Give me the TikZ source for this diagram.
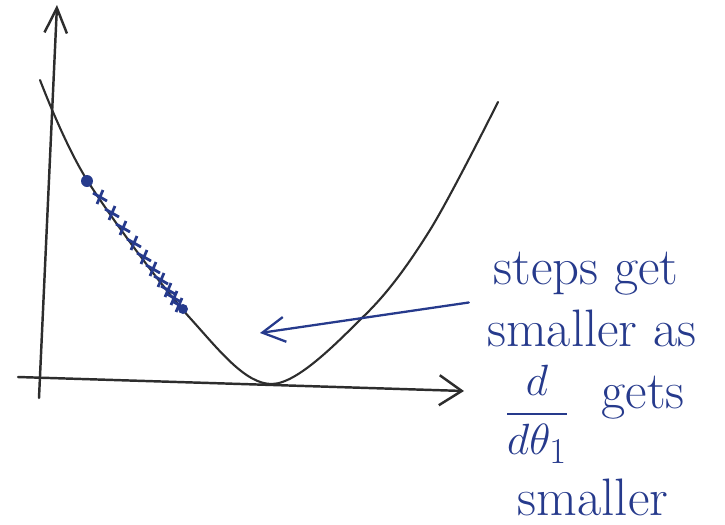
\documentclass[tikz,border=0pt]{standalone}
\usepackage{amsmath}
\usetikzlibrary{arrows.meta}

\definecolor{inkblue}{RGB}{38,58,140}
\definecolor{pencil}{RGB}{45,45,45}

\tikzset{
  axisline/.style={pencil, line width=1.4pt, line cap=round},
  costcurve/.style={pencil, line width=1.2pt, line cap=round},
  bluenote/.style={inkblue, font=\fontsize{30}{32}\selectfont, inner sep=2pt},
  bluearrow/.style={inkblue, line width=1.3pt, line cap=round,
    -{Straight Barb[length=4.5mm,width=5mm,line width=1.3pt]}},
}

\begin{document}
\begin{tikzpicture}[x=0.02cm, y=-0.02cm]
      \useasboundingbox (0,0) rectangle (725,525);

      % axes
      \coordinate (yfoot) at (39,398);
      \coordinate (ytip) at (57,5);
      \coordinate (xfoot) at (18,377);
      \coordinate (xtip) at (464,391);
      \draw[axisline, -{Straight Barb[length=5mm,width=4.5mm,line width=1.4pt]}]
        (yfoot) -- (ytip);
      \draw[axisline, -{Straight Barb[length=4.5mm,width=6mm,line width=1.4pt]}]
        (xfoot) -- (xtip);

      % cost function
      \draw[costcurve] plot[smooth, tension=0.55] coordinates {
        (40,80) (87,180) (190,318) (272,384) (365,315) (430,230) (498,102)};

      % gradient descent steps
      \fill[inkblue] (87,181) circle (6);
      \foreach \x/\y in {100/197, 112/213, 123/228, 134/243, 144/257,
                         153/269, 161/280, 168/290, 174/298, 179/305} {
        \draw[inkblue, line width=1.6pt] (\x-7,\y-4) -- (\x+7,\y+4)
                                         (\x-3,\y+7) -- (\x+3,\y-7);
      }
      \fill[inkblue] (183,309) circle (5);

      \node[bluenote] (l1) at (586,274) {steps get};
      \node[bluenote] (l2) at (592,328) {smaller as};
      \node[bluenote] (l3) at (537,414) {$\displaystyle\frac{d}{d\theta_1}$};
      \node[bluenote] (l3b) at (643,398) {gets};
      \node[bluenote] (l4) at (593,497) {smaller};

      \coordinate (tip) at (260,333);
      \draw[bluearrow, shorten <=12pt] (l1.south west) -- (tip);
    \end{tikzpicture}
\end{document}
